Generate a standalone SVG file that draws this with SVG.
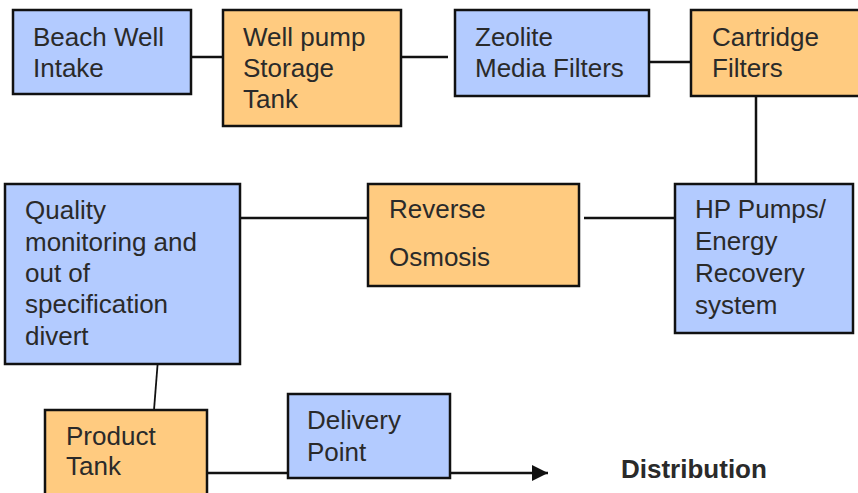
<svg xmlns="http://www.w3.org/2000/svg" width="858" height="493" viewBox="0 0 858 493">
  <defs>
    <style>
      .box { stroke: #111; stroke-width: 2.5; }
      .blue { fill: #b3cbff; }
      .orange { fill: #ffcb80; }
      .lbl { font-family: "Liberation Sans", Arial, sans-serif; font-size: 26px; fill: #2a2a2a; }
      .bold { font-weight: bold; font-size: 26px; }
      .wire { stroke: #111; stroke-width: 2.5; fill: none; }
      .thin { stroke-width: 1.8; }
    </style>
    <marker id="arrow" viewBox="0 0 10 10" refX="10" refY="5" markerWidth="17" markerHeight="16" markerUnits="userSpaceOnUse" orient="auto">
      <path d="M0,0 L10,5 L0,10 Z" fill="#111"/>
    </marker>
  </defs>
  <rect width="858" height="493" fill="#ffffff"/>

  <!-- connectors -->
  <g id="connectors">
    <line class="wire" x1="191" y1="57" x2="223" y2="57"/>
    <line class="wire" x1="401" y1="57" x2="448" y2="57"/>
    <line class="wire" x1="649" y1="62" x2="695" y2="62"/>
    <line class="wire" x1="756" y1="90" x2="756" y2="184"/>
    <line class="wire" x1="584" y1="218" x2="678" y2="218"/>
    <line class="wire" x1="240" y1="218" x2="368" y2="218"/>
    <line class="wire thin" x1="158" y1="359" x2="154" y2="410"/>
    <line class="wire" x1="207" y1="473" x2="288" y2="473"/>
    <line class="wire" x1="450" y1="473" x2="548" y2="473" marker-end="url(#arrow)"/>
  </g>

  <!-- process steps -->
  <g id="beach-well-intake">
    <rect class="box blue" x="13" y="10" width="178" height="84"/>
    <text class="lbl" x="33" y="46">Beach Well</text>
    <text class="lbl" x="33" y="77">Intake</text>
  </g>

  <g id="well-pump-storage-tank">
    <rect class="box orange" x="223" y="10" width="178" height="116"/>
    <text class="lbl" x="243" y="46">Well pump</text>
    <text class="lbl" x="243" y="77">Storage</text>
    <text class="lbl" x="243" y="108">Tank</text>
  </g>

  <g id="zeolite-media-filters">
    <rect class="box blue" x="455" y="10" width="194" height="86"/>
    <text class="lbl" x="475" y="46">Zeolite</text>
    <text class="lbl" x="475" y="77">Media Filters</text>
  </g>

  <g id="cartridge-filters">
    <rect class="box orange" x="691" y="10" width="180" height="86"/>
    <text class="lbl" x="712" y="46">Cartridge</text>
    <text class="lbl" x="712" y="77">Filters</text>
  </g>

  <g id="hp-pumps">
    <rect class="box blue" x="675" y="184" width="178" height="149"/>
    <text class="lbl" x="695" y="218">HP Pumps/</text>
    <text class="lbl" x="695" y="250">Energy</text>
    <text class="lbl" x="695" y="282">Recovery</text>
    <text class="lbl" x="695" y="314">system</text>
  </g>

  <g id="reverse-osmosis">
    <rect class="box orange" x="368" y="184" width="211" height="102"/>
    <text class="lbl" x="389" y="218">Reverse</text>
    <text class="lbl" x="389" y="266">Osmosis</text>
  </g>

  <g id="quality-monitoring">
    <rect class="box blue" x="5" y="184" width="235" height="180"/>
    <text class="lbl" x="25" y="219">Quality</text>
    <text class="lbl" x="25" y="251">monitoring and</text>
    <text class="lbl" x="25" y="282">out of</text>
    <text class="lbl" x="25" y="313">specification</text>
    <text class="lbl" x="25" y="345">divert</text>
  </g>

  <g id="product-tank">
    <rect class="box orange" x="45" y="410" width="162" height="100"/>
    <text class="lbl" x="66" y="445">Product</text>
    <text class="lbl" x="66" y="475">Tank</text>
  </g>

  <g id="delivery-point">
    <rect class="box blue" x="288" y="394" width="162" height="84"/>
    <text class="lbl" x="307" y="429">Delivery</text>
    <text class="lbl" x="307" y="461">Point</text>
  </g>

  <g id="distribution">
    <text class="lbl bold" x="621" y="478">Distribution</text>
  </g>
</svg>
